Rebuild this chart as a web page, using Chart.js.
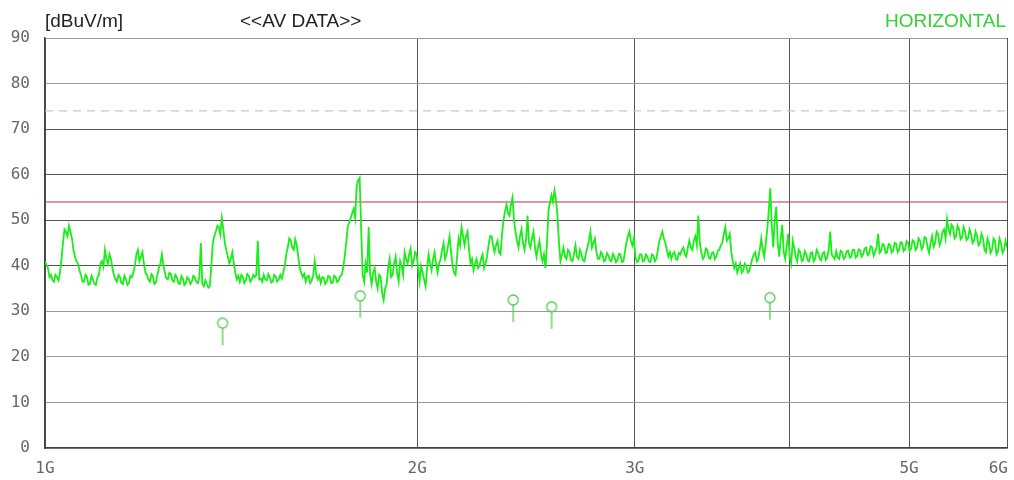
<!DOCTYPE html>
<html>
<head>
<meta charset="utf-8">
<style>
  html, body { margin: 0; padding: 0; background: #ffffff; }
  #wrap { width: 1014px; height: 480px; }
</style>
<script src="https://cdn.jsdelivr.net/npm/chart.js@4.4.1/dist/chart.umd.min.js"></script>
</head>
<body>
<div id="wrap"><canvas id="emi" width="1014" height="480"></canvas></div>
<script>
// Sweep from 1 GHz to 6 GHz, points spaced evenly on the log frequency axis
const START_GHZ = 1;
const STOP_GHZ = 6;

// Average-detector trace, horizontal polarisation [dBuV/m]
// LEVELS_A holds the even sweep points, LEVELS_B the odd ones in between.
const LEVELS_A = [
  41, 39.5, 38, 36.5, 37.5, 38.5, 45, 47.5, 48.8, 46,
  42, 40.5, 38, 36.5, 37.5, 36, 37, 35.8, 38, 41,
  43.5, 40.5, 41.5, 38, 36.5, 37.5, 36, 37, 36.2, 37.5,
  40, 43.5, 42, 40.5, 38, 36.5, 37.8, 36.3, 39.5, 42.5,
  38.5, 37, 38.2, 36.5, 37.5, 36, 37.2, 36.2, 37, 36.5,
  37.5, 36.2, 45, 35.5, 36, 35.5, 45, 47.5, 48.5, 50.5,
  45, 42, 41.5, 40.5, 37, 36.5, 37.5, 36.8, 37.8, 37,
  37.5, 45.5, 37.2, 38, 36.8, 37.5, 36.5, 37.6, 37, 37.2,
  40, 44, 45.5, 43.5, 44.5, 39.5, 37.5, 36.5, 37.8, 36.8,
  41, 37, 36.2, 37.4, 36.5, 37.6, 36.3, 37.5, 36.8, 38,
  42, 48.5, 50.5, 52.5, 57.5, 59.3, 38, 40.5, 48.5, 36,
  39.5, 35, 37.5, 32.5, 36, 41.5, 38, 42, 36.5, 40,
  43, 40.5, 43.8, 41, 42.5, 36.5, 38.5, 35.5, 42.5, 39,
  43, 38.5, 41.5, 45, 42.5, 46.5, 40, 38, 46, 48.5,
  44.5, 47.5, 40.5, 39, 41.5, 40, 42.5, 40.5, 44.5, 46.5,
  43, 45.5, 42.5, 50, 53.5, 51, 55, 47.5, 44, 48,
  43.5, 51, 44, 47.5, 42, 45.5, 41, 39.5, 52, 55.5,
  56.5, 51, 41, 44, 41.5, 43, 41, 44.5, 41.5, 42.5,
  41, 44, 47.5, 45, 43, 41.5, 42.5, 41.2, 42.3, 41,
  42, 41.2, 42.5, 41, 45, 47.5, 44.5, 42, 41, 42.5,
  41.2, 42, 40.8, 42.3, 41.5, 45.5, 47.5, 45, 42, 41.5,
  43, 41.3, 42.5, 44, 42, 45.5, 43.5, 46.5, 51, 43,
  42, 43.5, 41.5, 43, 42, 43.5, 45, 48.5, 46, 43,
  39.5, 38.5, 40.5, 39, 40, 38.8, 41.5, 43, 41.5, 46,
  42, 48, 57, 44, 53, 42, 49, 41.5, 47, 40.5,
  44, 41, 43, 41.3, 42.5, 41, 43, 41.5, 42.8, 41.2,
  43, 41.8, 47.5, 42, 43.2, 41.5, 43, 41.8, 43.3, 42,
  43.5, 42.2, 43.4, 42.5, 44, 42.6, 44, 43, 47, 43.2,
  44.5, 43, 44.6, 43.3, 44.8, 43.5, 45, 43.6, 45, 43.8,
  45.3, 44, 45.5, 44.2, 46, 42.8, 46.5, 45, 47, 45.5,
  48, 50.2, 47, 48.5, 46.5, 48, 46.2, 47.5, 46, 47,
  45.5, 46.5, 45, 46, 43, 45, 43.5, 45.5, 43.2, 45,
  43.5, 44
];
const LEVELS_B = [
  40.2, 37.5, 36.8, 38, 36.8, 41.5, 48, 46.5, 47.5, 43.5,
  41, 39, 36.5, 38, 35.8, 37.8, 36, 37.5, 40.5, 39.8,
  41.5, 42.5, 39.5, 37, 38, 36.2, 37.8, 35.8, 37.8, 38.5,
  42.5, 41, 43, 38.5, 37, 38.2, 36, 38, 40.5, 40,
  37.2, 38.5, 36.8, 38, 36.2, 37.8, 35.8, 37.5, 36, 37.8,
  36.5, 37.5, 36, 36.8, 35.2, 40, 46.5, 48.8, 46.8, 48,
  43.5, 40.5, 43, 38.5, 37.8, 38, 36.2, 38.2, 36.5, 38,
  38, 37, 36.5, 37, 38.2, 36.3, 38, 36.5, 38, 38.5,
  42.5, 46, 44, 45.8, 42, 38.5, 38.2, 37.6, 36.2, 38,
  38, 37.8, 37.5, 36, 37.8, 36.2, 37.8, 36.4, 37.7, 39.5,
  45, 49.5, 51.5, 50.5, 58.8, 48, 36.5, 38.5, 38, 38.5,
  36.5, 38, 34, 35, 39.5, 37.5, 40.5, 38.5, 41, 38,
  41.5, 42.5, 40, 43, 39.5, 40, 37, 39.5, 40.5, 41.5,
  40.5, 40.5, 43.5, 41.5, 44.5, 43, 38.5, 42, 44.5, 46.5,
  46.5, 43.5, 41.5, 40.5, 39.5, 41.5, 39.5, 42, 46.5, 44.5,
  44.5, 43, 47, 52, 51.5, 53.5, 50, 45.5, 46.5, 45,
  45.5, 45, 46, 44, 44, 42.5, 42.5, 45, 54, 54,
  54.5, 45, 42.5, 42, 43.5, 41.2, 42.5, 42, 43.5, 41.2,
  42.8, 45.5, 44, 46, 41.5, 43, 41, 42.8, 41.2, 42.6,
  40.8, 42.6, 40.8, 43, 46.5, 45.5, 46, 40.8, 42.5, 41,
  42.5, 41, 42.5, 41, 43.5, 46.5, 46, 43.5, 43, 42.6,
  41.5, 42.8, 43.5, 42.5, 44, 44, 45.5, 44.5, 45, 41.5,
  43.8, 41.8, 42.8, 41.5, 43.3, 44.5, 47, 45.5, 47, 41,
  40.5, 39.5, 38.5, 40.5, 38.5, 40.2, 42.5, 41, 43.5, 43.5,
  45, 52, 49, 50, 45, 46, 43, 44.5, 42, 45.5,
  42, 43.5, 41, 43.2, 41.2, 42.8, 41, 43.5, 41.5, 42.8,
  41.3, 43.5, 42.5, 41.5, 41.8, 43.3, 41.5, 43.2, 41.8, 43.5,
  41.8, 43.6, 42, 43.8, 42.3, 44.3, 42.2, 44.2, 42.8, 44.8,
  42.8, 44.8, 42.9, 45, 43, 45.2, 43.2, 45.4, 43.2, 45.6,
  43.5, 46, 43.6, 46.3, 44, 45, 44.2, 47.5, 44.5, 47.5,
  46, 48, 49, 46, 48.8, 45.8, 48.5, 45.6, 48, 45,
  47.5, 44.5, 47, 43.5, 46, 42.8, 46, 42.5, 46, 42.8,
  45.5
];

// Final average readings at the peak frequencies
const MARKER_GHZ = [1.392, 1.799, 2.392, 2.569, 3.858];
const MARKER_LEVELS = [27.4, 33.4, 32.5, 31.0, 33.0];

// Limit lines [dBuV/m]
const LIMIT_AV = 54;
const LIMIT_PK = 74;

// Axis ticks
const X_TICKS_GHZ = [1, 2, 3, 4, 5, 6];
const X_TICK_LABELS = ['1G', '2G', '3G', '', '5G', '6G'];
const Y_TICKS = [0, 10, 20, 30, 40, 50, 60, 70, 80, 90];

const TRACE_COLOR = '#19ee19';
const MARKER_COLOR = '#4fcc4f';

// Interleave the even and odd sweep points into one trace
const sweepPoints = LEVELS_A.length + LEVELS_B.length;
function sweepFreq(k) {
  return START_GHZ * Math.pow(STOP_GHZ / START_GHZ, k / (sweepPoints - 1));
}
const traceData = [];
LEVELS_A.forEach((v, i) => {
  traceData.push({ x: sweepFreq(2 * i), y: v });
  if (i < LEVELS_B.length) traceData.push({ x: sweepFreq(2 * i + 1), y: LEVELS_B[i] });
});
const markerData = MARKER_GHZ.map((f, i) => ({ x: f, y: MARKER_LEVELS[i] }));

// Marker glyph: small open circle with a stem hanging below it
function makeMarkerGlyph() {
  const c = document.createElement('canvas');
  c.width = 14; c.height = 46;
  const g = c.getContext('2d');
  g.strokeStyle = MARKER_COLOR;
  g.lineWidth = 1.3;
  g.beginPath();
  g.arc(7, 23, 5, 0, Math.PI * 2);
  g.stroke();
  g.beginPath();
  g.moveTo(7, 28);
  g.lineTo(7, 45);
  g.stroke();
  return c;
}

// Header texts above the plot frame
const headerPlugin = {
  id: 'header',
  afterDraw(chart) {
    const ctx = chart.ctx;
    ctx.save();
    ctx.font = '19px "Liberation Sans", Arial, sans-serif';
    ctx.textBaseline = 'alphabetic';
    ctx.fillStyle = '#222222';
    ctx.textAlign = 'left';
    ctx.fillText('[dBuV/m]', 45, 27);
    ctx.fillText('<<AV DATA>>', 240, 27);
    ctx.fillStyle = '#33d133';
    ctx.textAlign = 'right';
    ctx.fillText('HORIZONTAL', 1006, 27);
    ctx.restore();
  }
};

// Keep the last frequency label inside the canvas, flush with the frame
const edgeLabelPlugin = {
  id: 'edgeLabel',
  beforeDraw(chart) {
    const items = chart.scales.x.getLabelItems();
    if (items.length) {
      const last = items[items.length - 1];
      last.options.textAlign = 'right';
      last.options.translation[0] = chart.chartArea.right + 1;
    }
  }
};

function yGridColor(ctx) {
  const v = ctx.tick ? ctx.tick.value : 0;
  if (v >= 40 && v <= 70) return '#555555';
  return '#9a9a9a';
}

new Chart(document.getElementById('emi'), {
  type: 'line',
  data: {
    datasets: [
      {
        label: 'AV limit',
        data: [{ x: START_GHZ, y: LIMIT_AV }, { x: STOP_GHZ, y: LIMIT_AV }],
        borderColor: '#b8304a',
        borderWidth: 1.2,
        pointRadius: 0,
        order: 3
      },
      {
        label: 'PK limit',
        data: [{ x: START_GHZ, y: LIMIT_PK }, { x: STOP_GHZ, y: LIMIT_PK }],
        borderColor: '#c9c9c9',
        borderWidth: 1.2,
        borderDash: [8, 6],
        pointRadius: 0,
        order: 3
      },
      {
        label: 'AV trace',
        data: traceData,
        borderColor: TRACE_COLOR,
        borderWidth: 1.8,
        pointRadius: 0,
        tension: 0,
        order: 2
      },
      {
        label: 'AV readings',
        data: markerData,
        showLine: false,
        pointStyle: makeMarkerGlyph(),
        pointRadius: 6,
        order: 1
      }
    ]
  },
  options: {
    responsive: false,
    animation: false,
    devicePixelRatio: 1,
    layout: { padding: { top: 38, right: 6, left: 0, bottom: 0 } },
    plugins: {
      legend: { display: false },
      tooltip: { enabled: false },
      title: { display: false }
    },
    scales: {
      x: {
        type: 'logarithmic',
        min: START_GHZ,
        max: STOP_GHZ,
        afterBuildTicks(scale) {
          scale.ticks = X_TICKS_GHZ.map(v => ({ value: v }));
        },
        afterFit(scale) {
          scale.height = 32;
          scale.paddingLeft = 0;
          scale.paddingRight = 0;
        },
        ticks: {
          autoSkip: false,
          maxRotation: 0,
          padding: 11,
          color: '#666666',
          font: { family: '"DejaVu Sans Mono", monospace', size: 16 },
          callback(value, index) { return X_TICK_LABELS[index]; }
        },
        grid: {
          color: '#555555',
          lineWidth: 1,
          drawTicks: false
        },
        border: { color: '#444444', width: 1.5 }
      },
      y: {
        type: 'linear',
        min: 0,
        max: 90,
        afterBuildTicks(scale) {
          scale.ticks = Y_TICKS.map(v => ({ value: v }));
        },
        afterFit(scale) {
          scale.width = 45;
          scale.paddingTop = 0;
          scale.paddingBottom = 0;
        },
        ticks: {
          padding: 15,
          color: '#666666',
          font: { family: '"DejaVu Sans Mono", monospace', size: 16 }
        },
        grid: {
          color: yGridColor,
          lineWidth: 1,
          drawTicks: false
        },
        border: { color: '#444444', width: 1.5 }
      }
    }
  },
  plugins: [headerPlugin, edgeLabelPlugin]
});
</script>
</body>
</html>
